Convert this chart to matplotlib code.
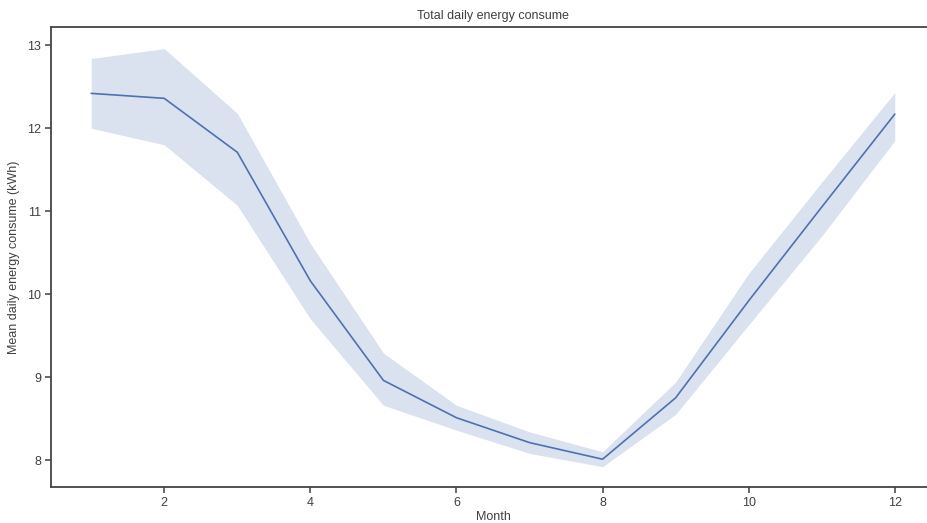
import matplotlib.pyplot as plt
import seaborn as sns

months = [1, 2, 3, 4, 5, 6, 7, 8, 9, 10, 11, 12]
mean_kwh = [12.42, 12.36, 11.71, 10.16, 8.96, 8.51, 8.21, 8.01, 8.75, 9.92, 11.05, 12.17]
ci_low = [12.00, 11.80, 11.07, 9.70, 8.66, 8.36, 8.08, 7.92, 8.55, 9.63, 10.70, 11.85]
ci_high = [12.84, 12.96, 12.18, 10.61, 9.29, 8.66, 8.34, 8.10, 8.94, 10.25, 11.35, 12.43]

sns.set_theme(style="ticks")
plt.rcParams['font.family'] = ['Liberation Sans', 'DejaVu Sans']

fig = plt.figure(figsize=(9.27, 5.23), dpi=100)
ax = fig.add_axes([51 / 927, 1 - 487 / 523, (935 - 51) / 927, (487 - 27) / 523])

color = "#4c72b0"
ax.fill_between(months, ci_low, ci_high, color=color, alpha=0.2, linewidth=0)
ax.plot(months, mean_kwh, color=color, linewidth=1.2)

ax.set_xlim(0.45, 12.55)
ax.set_ylim(7.675, 13.22)
ax.set_xticks([2, 4, 6, 8, 10, 12])
ax.set_yticks([8, 9, 10, 11, 12, 13])

text_color = "#404040"
for s in ax.spines.values():
    s.set_linewidth(1.3)
    s.set_color("#444444")
ax.tick_params(labelsize=9, length=4, width=1.1, colors=text_color, pad=3)

ax.set_title("Total daily energy consume", fontsize=9, color=text_color, pad=6)
ax.set_xlabel("Month", fontsize=9, color=text_color, labelpad=2)
ax.set_ylabel("Mean daily energy consume (kWh)", fontsize=9, color=text_color, labelpad=5)

fig.savefig("out.png", dpi=100)
